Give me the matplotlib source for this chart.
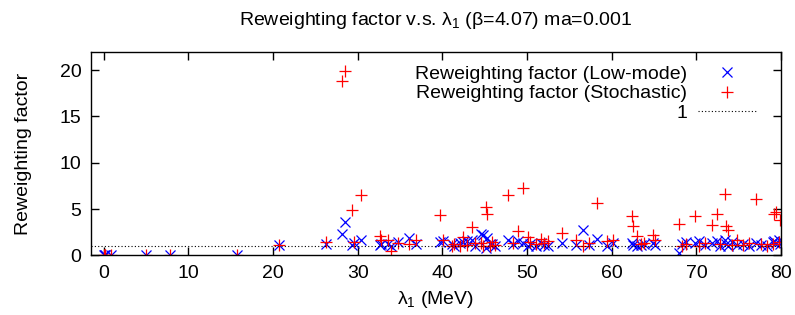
import numpy as np
import matplotlib
matplotlib.use('Agg')
import matplotlib.pyplot as plt

plt.rcParams['font.family'] = ['Liberation Sans', 'DejaVu Sans']
plt.rcParams['mathtext.fontset'] = 'custom'
plt.rcParams['mathtext.rm'] = 'Liberation Sans'
plt.rcParams['mathtext.it'] = 'Liberation Sans'

# lowest eigenvalue per configuration (MeV)
lam1 = [0.0, 0.1, 0.2, 0.9, 5.0, 7.8, 15.7, 20.7, 26.2, 28.2,
        28.5, 29.3, 29.6, 30.4, 32.6, 32.7, 33.6, 33.9, 34.8, 36.0,
        36.9, 39.7, 40.1, 41.1, 41.4, 42.1, 42.4, 42.9, 43.5, 43.8,
        44.5, 44.8, 45.1, 45.3, 45.6, 45.9, 46.2, 47.8, 48.3, 48.9,
        49.5, 50.1, 50.4, 51.0, 51.6, 52.0, 52.5, 54.1, 55.8, 56.6,
        57.3, 58.3, 59.4, 60.2, 62.4, 62.5, 63.0, 63.4, 63.8, 64.9,
        65.1, 67.9, 68.3, 68.8, 69.8, 70.3, 71.0, 71.8, 72.4, 72.8,
        73.4, 73.5, 73.7, 74.2, 74.8, 75.5, 76.2, 77.0, 77.6, 78.3,
        79.0, 79.2, 79.4, 79.7, 79.9]

# reweighting factor, low-mode part
rw_low = [0.0, 0.02, 0.0, 0.0, 0.0, 0.0, 0.0, 1.1, 1.2, 2.25,
          3.6, 1.1, 1.3, 1.7, 1.1, 1.2, 1.2, 1.0, 1.45, 1.85,
          1.2, 1.45, 1.5, 1.2, 1.0, 1.3, 1.4, 1.5, 1.6, 1.0,
          2.3, 2.2, 0.75, 1.85, 1.2, 1.2, 1.0, 1.65, 1.2, 1.5,
          1.3, 1.0, 1.2, 1.0, 1.3, 1.1, 1.0, 1.3, 1.1, 2.75,
          1.1, 1.75, 1.0, 1.3, 1.3, 1.1, 1.0, 1.1, 1.2, 1.3,
          1.1, 0.3, 1.2, 1.4, 1.3, 1.5, 1.1, 1.3, 1.5, 1.0,
          1.6, 1.2, 1.0, 1.4, 1.1, 1.2, 1.0, 1.3, 1.1, 1.0,
          1.4, 1.5, 1.3, 1.6, 1.2]

# reweighting factor, stochastic part
rw_sto = [0.0, 0.01, 0.03, 0.0, 0.0, 0.0, 0.0, 1.15, 1.4, 18.8,
          19.9, 4.85, 1.45, 6.55, 2.05, 1.6, 1.65, 0.5, 1.3, 1.2,
          1.65, 4.35, 1.65, 1.0, 1.2, 1.0, 2.0, 1.1, 3.1, 1.3,
          1.3, 1.0, 5.2, 4.45, 1.05, 1.4, 1.1, 6.55, 1.3, 2.6,
          7.25, 2.0, 1.4, 1.2, 1.75, 1.3, 1.5, 2.4, 1.65, 1.0,
          1.3, 5.65, 1.5, 1.65, 4.3, 3.2, 2.1, 1.2, 1.3, 2.2,
          1.6, 3.35, 1.0, 1.2, 4.2, 1.0, 1.3, 3.25, 4.5, 1.2,
          6.65, 3.15, 2.7, 1.1, 1.7, 1.1, 1.3, 6.1, 1.2, 1.0,
          1.2, 4.5, 4.7, 1.4, 3.85]

fs = 14

fig = plt.figure(figsize=(7.95, 3.15), dpi=100)
ax = fig.add_axes([0.1145, 0.1895, 0.868, 0.6464])

ax.plot(lam1, rw_low, linestyle='none', marker='x', color='blue',
        markersize=7, markeredgewidth=0.9, label='Reweighting factor (Low-mode)')
ax.plot(lam1, rw_sto, linestyle='none', marker='+', color='red',
        markersize=8, markeredgewidth=0.9, label='Reweighting factor (Stochastic)')
ax.axhline(1, color='black', linestyle=(0, (1, 2)), linewidth=0.8, label='1')

ax.set_xlim(-1.5, 80)
ax.set_ylim(0, 22)
ax.set_xticks(np.arange(0, 81, 10))
ax.set_yticks(np.arange(0, 21, 5))
ax.tick_params(direction='in', length=6, width=1, top=True, right=True,
               labelsize=fs, pad=7)
for s in ax.spines.values():
    s.set_linewidth(1)

ax.set_title(r'Reweighting factor v.s. $\lambda_1$ ($\beta$=4.07) ma=0.001',
             fontsize=fs, pad=19.5)
ax.set_xlabel(r'$\lambda_1$ (MeV)', fontsize=fs, labelpad=5)
ax.set_ylabel('Reweighting factor', fontsize=fs, labelpad=20)

leg = ax.legend(loc='upper right', bbox_to_anchor=(0.984, 1.0),
                markerfirst=False, frameon=False, fontsize=fs,
                handlelength=3.0, handletextpad=0.57, labelspacing=0.1,
                borderaxespad=0.5, borderpad=0.2)

fig.savefig('out.png', dpi=100)
